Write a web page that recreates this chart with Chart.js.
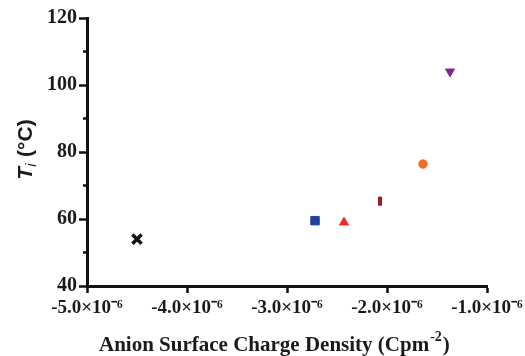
<!DOCTYPE html>
<html>
<head>
<meta charset="utf-8">
<script src="https://cdn.jsdelivr.net/npm/chart.js@4"></script>
<style>
  html, body { margin: 0; padding: 0; background: #fff; }
  #wrap { width: 525px; height: 356px; }
</style>
</head>
<body>
<div id="wrap"><canvas id="chart" width="525" height="356"></canvas></div>
<script>
// data (x in C/m^2, y in deg C)
const samples   = ['A', 'B', 'C', 'D', 'E', 'F'];
const chargeX   = [-4.5e-6, -2.72e-6, -2.43e-6, -2.07e-6, -1.64e-6, -1.37e-6];
const tempY     = [54, 59.5, 59, 65.3, 76.4, 104];
const colors    = ['#111111', '#23439a', '#ee2a2a', '#9e1b22', '#f26a21', '#7b2a8c'];
const styles    = ['crossRot', 'rect', 'triangle', 'line', 'circle', 'triangle'];
const rotations = [0, 0, 0, 90, 0, 180];
const yTicks    = [40, 60, 80, 100, 120];
const yMinor    = [50, 70, 90, 110];
const xTicks    = [-5e-6, -4e-6, -3e-6, -2e-6, -1e-6];

const SERIF = '"Liberation Serif", "Times New Roman", serif';
const SANS = '"Liberation Sans", Arial, sans-serif';

const radius = { crossRot: 6.5, rect: 6, triangle: 5.2, line: 4.5, circle: 4.2 };
const bw = { crossRot: 3.5, rect: 1, triangle: 1, line: 4, circle: 1 };

const datasets = samples.map((s, i) => ({
  label: s,
  data: [{ x: chargeX[i], y: tempY[i] }],
  pointStyle: styles[i],
  rotation: rotations[i],
  backgroundColor: colors[i],
  borderColor: colors[i],
  borderWidth: bw[styles[i]],
  pointRadius: radius[styles[i]]
}));

function fmtX(v) {
  const m = v / 1e-6;
  return m.toFixed(1) + '\u00d710\u207b\u2076';
}

// axis titles and minor y ticks
const extras = {
  id: 'extras',
  afterDraw(chart) {
    const ctx = chart.ctx;
    const ys = chart.scales.y;
    ctx.save();
    // minor ticks
    ctx.strokeStyle = '#111';
    ctx.lineWidth = 2.5;
    yMinor.forEach(v => {
      const py = ys.getPixelForValue(v);
      ctx.beginPath();
      ctx.moveTo(ys.right - 4, py);
      ctx.lineTo(ys.right, py);
      ctx.stroke();
    });
    // x title
    ctx.fillStyle = '#1a1a1a';
    ctx.textBaseline = 'alphabetic';
    ctx.textAlign = 'left';
    ctx.font = 'bold 21px ' + SERIF;
    const main = 'Anion Surface Charge Density (Cpm';
    let x0 = 99, by = 351;
    ctx.fillText(main, x0, by);
    let w = ctx.measureText(main).width;
    ctx.font = 'bold 14px ' + SERIF;
    ctx.fillText('-2', x0 + w + 1, by - 10);
    const w2 = ctx.measureText('-2').width;
    ctx.font = 'bold 21px ' + SERIF;
    ctx.fillText(')', x0 + w + w2 + 2, by);

    // y title (rotated)
    ctx.translate(32, 150);
    ctx.rotate(-Math.PI / 2);
    ctx.font = 'italic bold 21px ' + SANS;
    const tW = ctx.measureText('T').width;
    ctx.font = 'italic 14px ' + SANS;
    const iW = ctx.measureText('i').width;
    ctx.font = 'bold 21px ' + SANS;
    const cW = ctx.measureText(' (\u00b0C)').width;
    let sx = -(tW + iW + cW) / 2;
    ctx.font = 'italic bold 21px ' + SANS;
    ctx.fillText('T', sx, 0);
    ctx.font = 'italic 14px ' + SANS;
    ctx.fillText('i', sx + tW, 4);
    ctx.font = 'bold 21px ' + SANS;
    ctx.fillText(' (\u00b0C)', sx + tW + iW + 1, 0);
    ctx.restore();
  }
};

new Chart(document.getElementById('chart'), {
  type: 'scatter',
  data: { datasets },
  options: {
    responsive: false,
    animation: false,
    layout: { padding: { top: 18, right: 38, left: 0, bottom: 0 } },
    plugins: { legend: { display: false }, tooltip: { enabled: false } },
    scales: {
      x: {
        type: 'linear',
        min: -5e-6,
        max: -1e-6,
        afterBuildTicks: s => { s.ticks = xTicks.map(v => ({ value: v })); },
        afterFit: s => { s.height = 70; s.paddingLeft = 0; s.paddingRight = 0; },
        border: { color: '#111', width: 3 },
        grid: { drawOnChartArea: false, drawTicks: true, tickLength: 7, tickColor: '#111', tickWidth: 2.5 },
        ticks: {
          color: '#1a1a1a',
          padding: 4,
          maxRotation: 0,
          autoSkip: false,
          font: { family: SERIF, size: 19, weight: 'bold' },
          callback: v => fmtX(v)
        }
      },
      y: {
        min: 40,
        max: 120,
        afterBuildTicks: s => { s.ticks = yTicks.map(v => ({ value: v })); },
        afterFit: s => { s.width = 87; s.paddingTop = 0; s.paddingBottom = 0; },
        border: { color: '#111', width: 3 },
        grid: { drawOnChartArea: false, drawTicks: true, tickLength: 8, tickColor: '#111', tickWidth: 2.5 },
        ticks: {
          color: '#1a1a1a',
          padding: 2,
          font: { family: SERIF, size: 20, weight: 'bold' }
        }
      }
    }
  },
  plugins: [extras]
});
</script>
</body>
</html>
